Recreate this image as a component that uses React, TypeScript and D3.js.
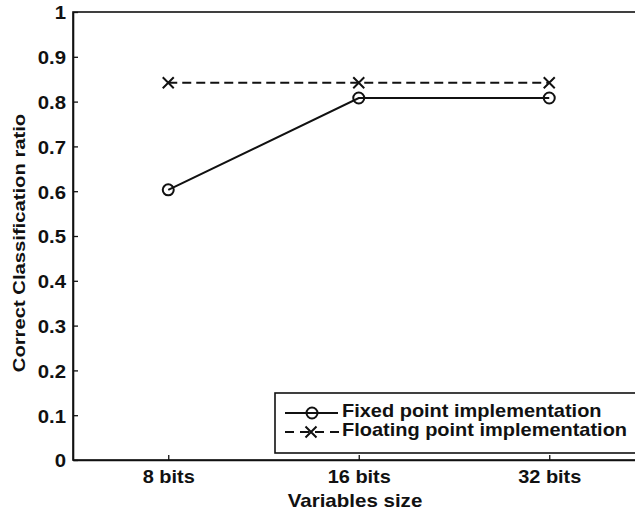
import { useEffect, useRef } from 'react'
import * as d3 from 'd3'

const categories = ['8 bits', '16 bits', '32 bits']
const fixedPoint = [0.603, 0.808, 0.808]
const floatingPoint = [0.842, 0.842, 0.842]
const yTickValues = [0, 0.1, 0.2, 0.3, 0.4, 0.5, 0.6, 0.7, 0.8, 0.9, 1]
const yTickLabels = ['0', '0.1', '0.2', '0.3', '0.4', '0.5', '0.6', '0.7', '0.8', '0.9', '1']
const seriesNames = ['Fixed point implementation', 'Floating point implementation']

const W = 635
const H = 513
const FONT = '"Liberation Sans", Arial, Helvetica, sans-serif'

export default function App() {
  const svgRef = useRef<SVGSVGElement>(null)

  useEffect(() => {
    if (!svgRef.current) return
    const svg = d3.select(svgRef.current)
    svg.selectAll('*').remove()

    // plot box (right side runs past the picture edge, like the source crop)
    const left = 73
    const top = 12
    const bottom = 460
    const step = 190.5

    const x = d3.scaleLinear().domain([0.5, 3.5]).range([left, left + 3 * step])
    const y = d3.scaleLinear().domain([0, 1]).range([bottom, top])
    const right = x(3.5)

    svg.append('rect').attr('width', W).attr('height', H).attr('fill', '#fff')

    // Box
    svg.append('rect')
      .attr('x', left)
      .attr('y', top)
      .attr('width', right - left)
      .attr('height', bottom - top)
      .attr('fill', 'none')
      .attr('stroke', '#111')
      .attr('stroke-width', 1.6)

    // Y axis
    const yAxis = svg.append('g')
      .attr('transform', `translate(${left},0)`)
      .call(
        d3.axisLeft(y)
          .tickValues(yTickValues)
          .tickFormat((d, i) => yTickLabels[i])
          .tickSizeInner(-5)
          .tickSizeOuter(0)
          .tickPadding(7)
      )
    yAxis.select('.domain').attr('stroke', '#111').attr('stroke-width', 1.6)
    yAxis.selectAll('.tick line').attr('stroke', '#111').attr('stroke-width', 1.3)
    yAxis.selectAll('.tick text')
      .attr('x', null)
      .attr('transform', 'translate(-7,1) scale(1.1,1)')
      .attr('fill', '#111')
      .style('font-family', FONT)
      .style('font-size', '18.5px')
      .style('font-weight', 'bold')

    // X axis
    const xAxis = svg.append('g')
      .attr('transform', `translate(0,${bottom})`)
      .call(
        d3.axisBottom(x)
          .tickValues([1, 2, 3])
          .tickFormat((d, i) => categories[i])
          .tickSizeInner(-5)
          .tickSizeOuter(0)
          .tickPadding(9)
      )
    xAxis.select('.domain').attr('stroke', '#111').attr('stroke-width', 1.6)
    xAxis.selectAll('.tick line').attr('stroke', '#111').attr('stroke-width', 1.3)
    xAxis.selectAll('.tick text')
      .attr('y', null)
      .attr('transform', 'translate(0,9) scale(1.05,1)')
      .attr('fill', '#111')
      .style('font-family', FONT)
      .style('font-size', '19px')
      .style('font-weight', 'bold')

    // Axis titles
    svg.append('text')
      .attr('transform', `translate(355,507) scale(1.14,1)`)
      .attr('text-anchor', 'middle')
      .attr('fill', '#111')
      .style('font-family', FONT)
      .style('font-size', '18px')
      .style('font-weight', 'bold')
      .text('Variables size')

    svg.append('text')
      .attr('transform', `translate(25,243) rotate(-90) scale(1.19,1)`)
      .attr('text-anchor', 'middle')
      .attr('fill', '#111')
      .style('font-family', FONT)
      .style('font-size', '17px')
      .style('font-weight', 'bold')
      .text('Correct Classification ratio')

    const line = d3.line<number>()
      .x((d, i) => x(i + 1))
      .y(d => y(d))

    const drawCircle = (g: any, cx: number, cy: number) =>
      g.append('circle')
        .attr('cx', cx).attr('cy', cy).attr('r', 5.5)
        .attr('fill', 'none').attr('stroke', '#111').attr('stroke-width', 2)

    const drawCross = (g: any, cx: number, cy: number) => {
      const s = 5.5
      g.append('path')
        .attr('d', `M${cx - s},${cy - s}L${cx + s},${cy + s}M${cx - s},${cy + s}L${cx + s},${cy - s}`)
        .attr('stroke', '#111').attr('stroke-width', 2).attr('fill', 'none')
    }

    const plot = svg.append('g')

    // Floating point (dashed, x markers)
    plot.append('path')
      .datum(floatingPoint)
      .attr('d', line)
      .attr('fill', 'none')
      .attr('stroke', '#111')
      .attr('stroke-width', 2)
      .attr('stroke-dasharray', '9,5')
    floatingPoint.forEach((v, i) => drawCross(plot, x(i + 1), y(v)))

    // Fixed point (solid, circle markers)
    plot.append('path')
      .datum(fixedPoint)
      .attr('d', line)
      .attr('fill', 'none')
      .attr('stroke', '#111')
      .attr('stroke-width', 2)
    fixedPoint.forEach((v, i) => drawCircle(plot, x(i + 1), y(v)))

    // Legend
    const legend = svg.append('g')
    legend.append('rect')
      .attr('x', 275)
      .attr('y', 393)
      .attr('width', 380)
      .attr('height', 60)
      .attr('fill', '#fff')
      .attr('stroke', '#111')
      .attr('stroke-width', 1.6)

    const rows = [413, 432]
    legend.append('line')
      .attr('x1', 285).attr('x2', 338)
      .attr('y1', rows[0]).attr('y2', rows[0])
      .attr('stroke', '#111').attr('stroke-width', 2)
    drawCircle(legend, 312, rows[0])

    legend.append('line')
      .attr('x1', 285).attr('x2', 339)
      .attr('y1', rows[1]).attr('y2', rows[1])
      .attr('stroke', '#111').attr('stroke-width', 2)
      .attr('stroke-dasharray', '9,6')
    drawCross(legend, 311, rows[1])

    seriesNames.forEach((name, i) => {
      legend.append('text')
        .attr('transform', `translate(342,${rows[i] + 4}) scale(1.11,1)`)
        .attr('fill', '#111')
        .style('font-family', FONT)
        .style('font-size', '18px')
        .style('font-weight', 'bold')
        .text(name)
    })
  }, [])

  return (
    <svg
      ref={svgRef}
      width={W}
      height={H}
      style={{ position: 'absolute', left: 0, top: 0, display: 'block' }}
    />
  )
}
